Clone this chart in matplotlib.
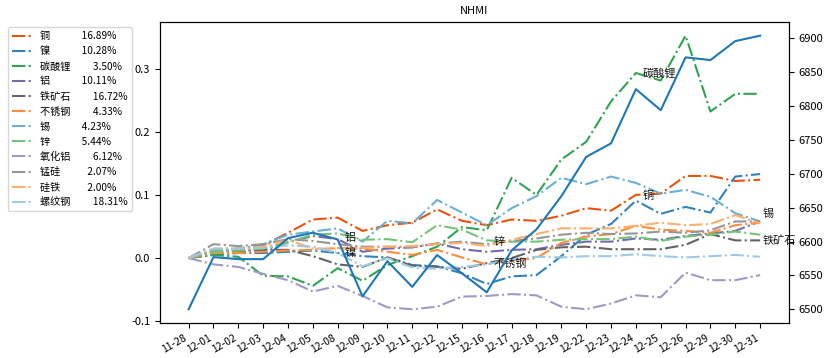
import matplotlib
matplotlib.use("Agg")
import matplotlib.pyplot as plt

plt.rcParams['font.family'] = ['Noto Sans CJK SC', 'DejaVu Sans']
plt.rcParams['axes.unicode_minus'] = False

dates = ['11-28', '12-01', '12-02', '12-03', '12-04', '12-05', '12-08', '12-09',
         '12-10', '12-11', '12-12', '12-15', '12-16', '12-17', '12-18', '12-19',
         '12-22', '12-23', '12-24', '12-25', '12-26', '12-29', '12-30', '12-31']

names = ['铜', '镍', '碳酸锂', '铝', '铁矿石', '不锈钢', '锡', '锌', '氧化铝', '锰硅', '硅铁', '螺纹钢']
weights = ['16.89%', '10.28%', '3.50%', '10.11%', '16.72%', '4.33%', '4.23%', '5.44%',
           '6.12%', '2.07%', '2.00%', '18.31%']

tong = [0, 0.012, 0.015, 0.02, 0.04, 0.061, 0.064, 0.043, 0.052, 0.056, 0.077, 0.059,
        0.052, 0.061, 0.059, 0.067, 0.079, 0.075, 0.1, 0.102, 0.13, 0.13, 0.122, 0.124]
nie = [0, 0.005, 0.008, 0.008, 0.01, 0.012, 0.008, 0.003, 0.001, -0.011, -0.013, -0.024,
       -0.041, -0.029, -0.027, 0.003, 0.037, 0.054, 0.091, 0.07, 0.081, 0.072, 0.129, 0.133]
tansuanli = [0, 0.005, 0.002, -0.028, -0.029, -0.044, -0.016, -0.036, -0.011, 0.003, 0.018, 0.049,
             0.044, 0.127, 0.1, 0.156, 0.184, 0.248, 0.293, 0.281, 0.352, 0.232, 0.26, 0.26]
lv = [0, 0.008, 0.01, 0.012, 0.025, 0.035, 0.03, 0.01, 0.015, 0.017, 0.023, 0.014,
      0.01, 0.013, 0.014, 0.021, 0.026, 0.026, 0.031, 0.029, 0.035, 0.039, 0.043, 0.058]
tiekuangshi = [0, 0.012, 0.012, 0.013, 0.013, 0.003, -0.01, -0.014, 0.001, -0.012, -0.014, -0.017,
               -0.008, 0.0, 0.013, 0.017, 0.018, 0.014, 0.014, 0.014, 0.021, 0.038, 0.028, 0.028]
buxiugang = [0, 0.008, 0.008, 0.01, 0.012, 0.013, 0.016, 0.015, 0.01, 0.005, 0.013, 0.001,
             -0.01, -0.004, 0.0, 0.024, 0.034, 0.038, 0.051, 0.045, 0.043, 0.04, 0.052, 0.056]
xi = [0, 0.012, 0.015, 0.022, 0.037, 0.042, 0.047, 0.026, 0.059, 0.055, 0.092, 0.072,
      0.052, 0.079, 0.098, 0.127, 0.117, 0.129, 0.119, 0.102, 0.108, 0.097, 0.071, 0.058]
xin = [0, 0.01, 0.012, 0.015, 0.025, 0.037, 0.039, 0.029, 0.03, 0.025, 0.052, 0.045,
       0.028, 0.026, 0.026, 0.029, 0.03, 0.03, 0.034, 0.027, 0.034, 0.037, 0.042, 0.037]
yanghualv = [0, -0.01, -0.014, -0.025, -0.035, -0.053, -0.044, -0.06, -0.078, -0.081, -0.077, -0.061,
             -0.06, -0.057, -0.059, -0.077, -0.081, -0.072, -0.059, -0.062, -0.023, -0.035, -0.035, -0.027]
mengui = [0, 0.022, 0.019, 0.022, 0.03, 0.027, 0.022, 0.018, 0.018, 0.017, 0.023, 0.026,
          0.022, 0.027, 0.031, 0.037, 0.04, 0.038, 0.039, 0.042, 0.04, 0.044, 0.058, 0.058]
guitie = [0, 0.015, 0.015, 0.018, 0.029, 0.015, 0.015, 0.016, 0.018, 0.019, 0.022, 0.024,
          0.019, 0.029, 0.038, 0.047, 0.047, 0.047, 0.051, 0.056, 0.052, 0.054, 0.068, 0.055]
luowengang = [0, 0.015, 0.015, 0.016, 0.02, 0.018, 0.008, -0.013, 0.0, -0.015, -0.017, -0.014,
              -0.01, -0.002, 0.002, 0.001, 0.003, 0.003, 0.006, 0.003, 0.001, 0.003, 0.005, 0.002]

nhmi = [6500, 6577, 6574, 6574, 6605, 6613, 6603, 6519, 6571, 6533, 6580, 6553,
        6525, 6587, 6618, 6667, 6725, 6745, 6825, 6794, 6872, 6868, 6896, 6904]

series = [tong, nie, tansuanli, lv, tiekuangshi, buxiugang, xi, xin, yanghualv, mengui, guitie, luowengang]

# annotations: (label, date index, value)
notes = [('铝', 6, 0.032), ('镍', 6, 0.008), ('锌', 12, 0.026), ('不锈钢', 12, -0.009),
         ('碳酸锂', 18, 0.292), ('铜', 18, 0.099), ('锡', 23, 0.07), ('铁矿石', 23, 0.027)]

colors = ['#e6550d', '#3182bd', '#31a354', '#756bb1', '#636363', '#fd8d3c',
          '#6baed6', '#74c476', '#9e9ac8', '#969696', '#fdae6b', '#9ecae1']

fig = plt.figure(figsize=(8.25, 3.58), dpi=100)
ax = fig.add_axes([0.194, 0.098, 0.762, 0.8405])
x = list(range(len(dates)))

for name, w, vals, c in zip(names, weights, series, colors):
    pad = ' ' * (2 * (7 - len(name)) + 2)
    ax.plot(x, vals, linestyle='-.', color=c, linewidth=1.5, label=f'{name}{pad}{w}')

for label, i, v in notes:
    dx = 0.12 if i == len(dates) - 1 else 0.28
    ax.text(i + dx, v, label, ha='left', va='center', fontsize=8, color='#1a1a1a')

ax.set_xticks(x)
ax.set_xticklabels(dates, rotation=30, ha='right', fontsize=7.5)
ax.tick_params(axis='y', labelsize=8)
ax.set_title('NHMI', fontsize=8)

ax2 = ax.twinx()
ax2.plot(x, nhmi, color='#1f77b4', linewidth=1.5)
ax2.tick_params(axis='y', labelsize=8)

ax.legend(loc='upper left', bbox_to_anchor=(0.0097, 0.9246), bbox_transform=fig.transFigure,
          fontsize=7.3, handlelength=2.0, borderaxespad=0)

fig.savefig('out.png', dpi=100)
